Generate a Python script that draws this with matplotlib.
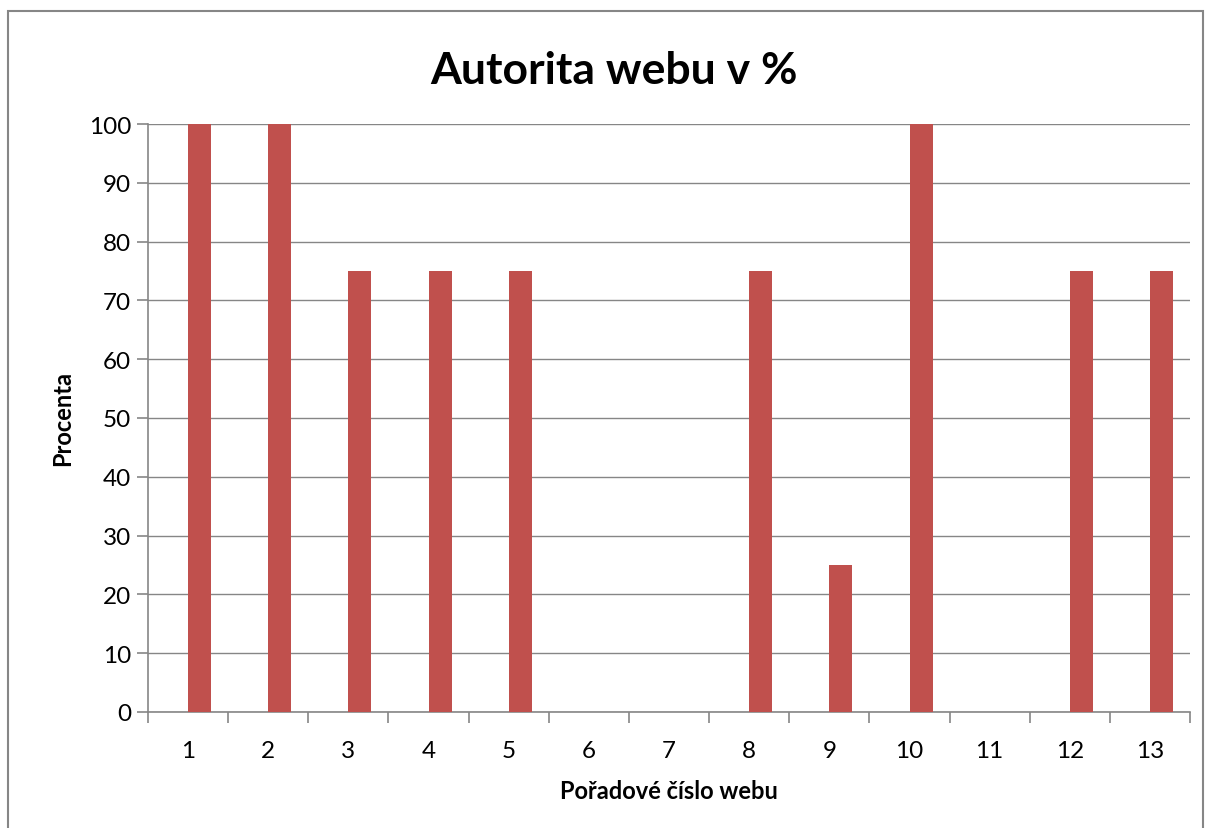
import matplotlib

matplotlib.use("Agg")
import matplotlib.pyplot as plt  # noqa: E402
from matplotlib.patches import Rectangle  # noqa: E402

categories = ["1", "2", "3", "4", "5", "6", "7", "8", "9", "10", "11", "12", "13"]
values = [100, 100, 75, 75, 75, 0, 0, 75, 25, 100, 0, 75, 75]

BAR = "#C0504D"
GRID = "#868686"
FONT = ["Lato", "DejaVu Sans"]

plt.rcParams["font.family"] = FONT

W, H = 1206, 829
fig = plt.figure(figsize=(W / 100, H / 100), dpi=100)
fig.patch.set_facecolor("white")

# chart area border (gray frame)
fig.add_artist(
    Rectangle((8 / W, -0.05), (1203 - 8) / W, (H - 12) / H + 0.05,
              transform=fig.transFigure, fill=False, edgecolor="#868686", lw=1.5)
)

ax = fig.add_axes([148 / W, (H - 713) / H, (1190 - 148) / W, (713 - 125) / H])
x = list(range(len(categories)))
# bars sit slightly right of the category centre (Excel series offset)
ax.bar([i + 0.144 for i in x], values, width=0.287, color=BAR, zorder=3)

ax.set_xlim(-0.5, len(categories) - 0.5)
ax.set_ylim(0, 100)
ax.set_yticks(range(0, 101, 10))
ax.set_xticks(x)
ax.set_xticklabels(categories)
ax.set_xticks([i - 0.5 for i in range(len(categories) + 1)], minor=True)

ax.grid(axis="y", color=GRID, lw=1.0, zorder=0)
ax.set_axisbelow(True)
for s in ("top", "right"):
    ax.spines[s].set_visible(False)
for s in ("left", "bottom"):
    ax.spines[s].set_color(GRID)
    ax.spines[s].set_linewidth(1.2)

ax.tick_params(axis="x", which="major", length=0, pad=20, labelsize=17.5)
ax.tick_params(axis="x", which="minor", length=8, color=GRID, width=1.2)
ax.tick_params(axis="y", length=8, color=GRID, width=1.2, pad=4, labelsize=17.5)

ax.set_xlabel("Pořadové číslo webu", fontsize=17, fontweight="bold", labelpad=13)
ax.set_ylabel("Procenta", fontsize=17, fontweight="bold", labelpad=11)

fig.text(614 / W, 1 - 71 / H, "Autorita webu v %", ha="center", va="center",
         fontsize=32, fontweight="bold")

fig.savefig("out.png", dpi=100, facecolor="white")
